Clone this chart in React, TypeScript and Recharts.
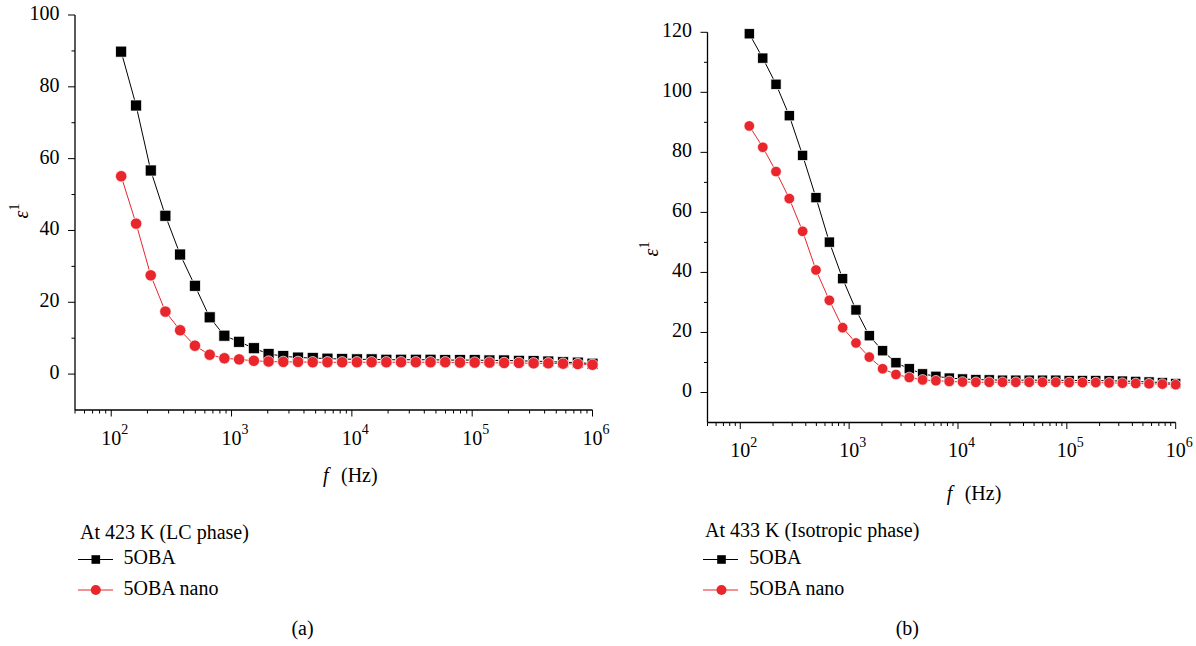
import React from 'react';
import { LineChart, Line, XAxis, YAxis } from 'recharts';

// measurement frequencies (Hz), log spaced
const FREQ = [
  121, 161, 213, 282, 374, 496, 658, 872, 1156, 1532, 2031, 2692, 3568, 4729, 6268, 8309,
  11013, 14598, 19350, 25649, 33997, 45063, 59731, 79174, 104945, 139104, 184382, 244398,
  323950, 429397, 569165, 754430, 1000000,
];

// ε' at 423 K (LC phase)
const LC_5OBA = [
  89.8, 74.8, 56.7, 44.1, 33.3, 24.6, 15.8, 10.7, 9.0, 7.2, 5.6, 5.0, 4.6, 4.5, 4.3, 4.2,
  4.1, 4.1, 4.0, 4.0, 4.0, 4.0, 3.9, 3.9, 3.9, 3.8, 3.8, 3.7, 3.6, 3.5, 3.3, 3.2, 2.9,
];
const LC_NANO = [
  55.1, 41.9, 27.5, 17.4, 12.2, 7.9, 5.4, 4.4, 4.1, 3.7, 3.5, 3.4, 3.4, 3.3, 3.3, 3.3,
  3.3, 3.3, 3.3, 3.3, 3.3, 3.3, 3.3, 3.2, 3.2, 3.2, 3.1, 3.1, 3.0, 3.0, 2.9, 2.8, 2.6,
];

// ε' at 433 K (isotropic phase)
const ISO_5OBA = [
  119.5, 111.4, 102.7, 92.2, 79.0, 64.9, 50.1, 37.9, 27.5, 18.9, 13.9, 9.9, 7.9, 6.2, 5.4,
  4.8, 4.5, 4.3, 4.2, 4.1, 4.1, 4.1, 4.1, 4.1, 4.0, 4.0, 4.0, 3.9, 3.8, 3.7, 3.5, 3.3, 3.0,
];
const ISO_NANO = [
  88.8, 81.7, 73.6, 64.6, 53.7, 40.8, 30.7, 21.6, 16.5, 11.8, 7.9, 6.0, 5.0, 4.2, 3.9,
  3.7, 3.5, 3.4, 3.4, 3.4, 3.4, 3.4, 3.4, 3.4, 3.3, 3.3, 3.3, 3.2, 3.1, 3.0, 2.9, 2.8, 2.6,
];

// axis ticks
const DECADES = [100, 1000, 10000, 100000];
const MINOR_STEPS = [1, 2, 3, 4, 5, 6, 7, 8, 9];
const X_TICKS = [50, 60, 70, 80, 90, ...DECADES.flatMap((d) => MINOR_STEPS.map((m) => m * d)), 1000000];
const Y_TICKS_LC = [0, 10, 20, 30, 40, 50, 60, 70, 80, 90, 100];
const Y_TICKS_ISO = [0, 10, 20, 30, 40, 50, 60, 70, 80, 90, 100, 110, 120];

const FONT = '"Liberation Serif", "Times New Roman", serif';
const RED = '#e8262b';

const LogTick = (props: any) => {
  const { x, y, payload } = props;
  const v = payload.value;
  const exp = Math.round(Math.log10(v));
  const major = Math.abs(Math.log10(v) - exp) < 1e-9;
  return (
    <g>
      <line x1={x} x2={x} y1={y} y2={y + (major ? 6.5 : 3.5)} stroke="#000" strokeWidth={1} />
      {major && (
        <g fontFamily={FONT} fill="#000">
          <text x={x} y={y + 34.5} textAnchor="middle" fontSize={20}>10</text>
          <text x={x + 10} y={y + 24} fontSize={14}>{exp}</text>
        </g>
      )}
    </g>
  );
};

const ValueTick = (props: any) => {
  const { x, y, payload } = props;
  const major = payload.value % 20 === 0;
  return (
    <g>
      <line x1={x - (major ? 7 : 3.5)} x2={x} y1={y} y2={y} stroke="#000" strokeWidth={1} />
      {major && (
        <text x={x - 15.5} y={y + 5} textAnchor="end" fontSize={20} fontFamily={FONT} fill="#000">
          {payload.value}
        </text>
      )}
    </g>
  );
};

interface PanelProps {
  pure: number[];
  nano: number[];
  yMax: number;
  yTicks: number[];
  width: number;
  height: number;
  margin: { top: number; right: number; bottom: number; left: number };
  size: number;
}

const Panel: React.FC<PanelProps> = ({ pure, nano, yMax, yTicks, width, height, margin, size }) => {
  const data = FREQ.map((f, i) => ({ f, pure: pure[i], nano: nano[i] }));
  const square = (p: any) => (
    <rect
      key={`sq-${p.index}`}
      x={p.cx - size / 2}
      y={p.cy - size / 2}
      width={size}
      height={size}
      fill="#000"
      stroke="#fff"
      strokeWidth={0.7}
    />
  );
  const circle = (p: any) => (
    <circle key={`ci-${p.index}`} cx={p.cx} cy={p.cy} r={size / 2 + 0.2} fill={RED} stroke="#fff" strokeWidth={0.7} />
  );
  return (
    <LineChart width={width} height={height} data={data} margin={margin}>
      <XAxis
        dataKey="f"
        type="number"
        scale="log"
        domain={[50, 1000000]}
        ticks={X_TICKS}
        interval={0}
        height={1}
        tickSize={0}
        tickMargin={0}
        tickLine={false}
        tick={(p: any) => <LogTick {...p} />}
        axisLine={{ stroke: '#000', strokeWidth: 1.3 }}
      />
      <YAxis
        type="number"
        domain={[-10, yMax]}
        ticks={yTicks}
        interval={0}
        width={1}
        tickSize={0}
        tickMargin={0}
        tickLine={false}
        tick={(p: any) => <ValueTick {...p} />}
        axisLine={{ stroke: '#000', strokeWidth: 1.3 }}
      />
      <Line
        type="linear"
        dataKey="pure"
        stroke="#000"
        strokeWidth={1}
        dot={square}
        activeDot={false}
        isAnimationActive={false}
      />
      <Line
        type="linear"
        dataKey="nano"
        stroke={RED}
        strokeWidth={1}
        dot={circle}
        activeDot={false}
        isAnimationActive={false}
      />
    </LineChart>
  );
};

const Legend = ({ x, title, titleY, textX, markX, caption, captionX }: any) => (
  <g fontFamily={FONT} fontSize={20} fill="#000">
    <text x={x} y={titleY}>{title}</text>
    <line x1={x - 2} x2={x + 33} y1={559.5} y2={559.5} stroke="#000" strokeWidth={1} />
    <rect x={markX - 4.3} y={555.2} width={8.6} height={8.6} fill="#000" />
    <text x={textX} y={563.5}>5OBA</text>
    <line x1={x - 2} x2={x + 33} y1={590} y2={590} stroke={RED} strokeWidth={1} />
    <circle cx={markX} cy={590} r={5} fill={RED} />
    <text x={textX} y={594.5}>5OBA nano</text>
    <text x={captionX} y={635} textAnchor="middle">{caption}</text>
  </g>
);

const YLabel = ({ x, y }: { x: number; y: number }) => (
  <text transform={`translate(${x},${y}) rotate(-90)`} textAnchor="middle" fontFamily={FONT} fontSize={20} fill="#000">
    <tspan fontStyle="italic">ε</tspan>
    <tspan dy={-9} fontSize={14}>1</tspan>
  </text>
);

const XLabel = ({ x, y }: { x: number; y: number }) => (
  <g fontFamily={FONT} fontSize={20} fill="#000">
    <text x={x} y={y} fontStyle="italic">f</text>
    <text x={x + 18} y={y}>(Hz)</text>
  </g>
);

export default function App() {
  return (
    <div style={{ position: 'absolute', left: 0, top: 0, width: 1196, height: 646, background: '#fff' }}>
      <div style={{ position: 'absolute', left: 0, top: 0 }}>
        <Panel
          pure={LC_5OBA}
          nano={LC_NANO}
          yMax={100}
          yTicks={Y_TICKS_LC}
          width={610}
          height={500}
          margin={{ top: 15, left: 74, right: 17.5, bottom: 89 }}
          size={11}
        />
      </div>
      <div style={{ position: 'absolute', left: 620, top: 0 }}>
        <Panel
          pure={ISO_5OBA}
          nano={ISO_NANO}
          yMax={120}
          yTicks={Y_TICKS_ISO}
          width={576}
          height={500}
          margin={{ top: 32.3, left: 86.5, right: 20.3, bottom: 76.5 }}
          size={10.2}
        />
      </div>
      <svg width={1196} height={646} style={{ position: 'absolute', left: 0, top: 0, pointerEvents: 'none' }}>
        <YLabel x={28} y={211} />
        <YLabel x={658} y={249} />
        <XLabel x={323} y={481.5} />
        <XLabel x={946.7} y={499.5} />
        <Legend x={80} title="At 423 K (LC phase)" titleY={539} textX={123.5} markX={95.8} caption="(a)" captionX={302.5} />
        <Legend x={705} title="At 433 K (Isotropic phase)" titleY={537} textX={749.3} markX={721.5} caption="(b)" captionX={907.3} />
      </svg>
    </div>
  );
}
